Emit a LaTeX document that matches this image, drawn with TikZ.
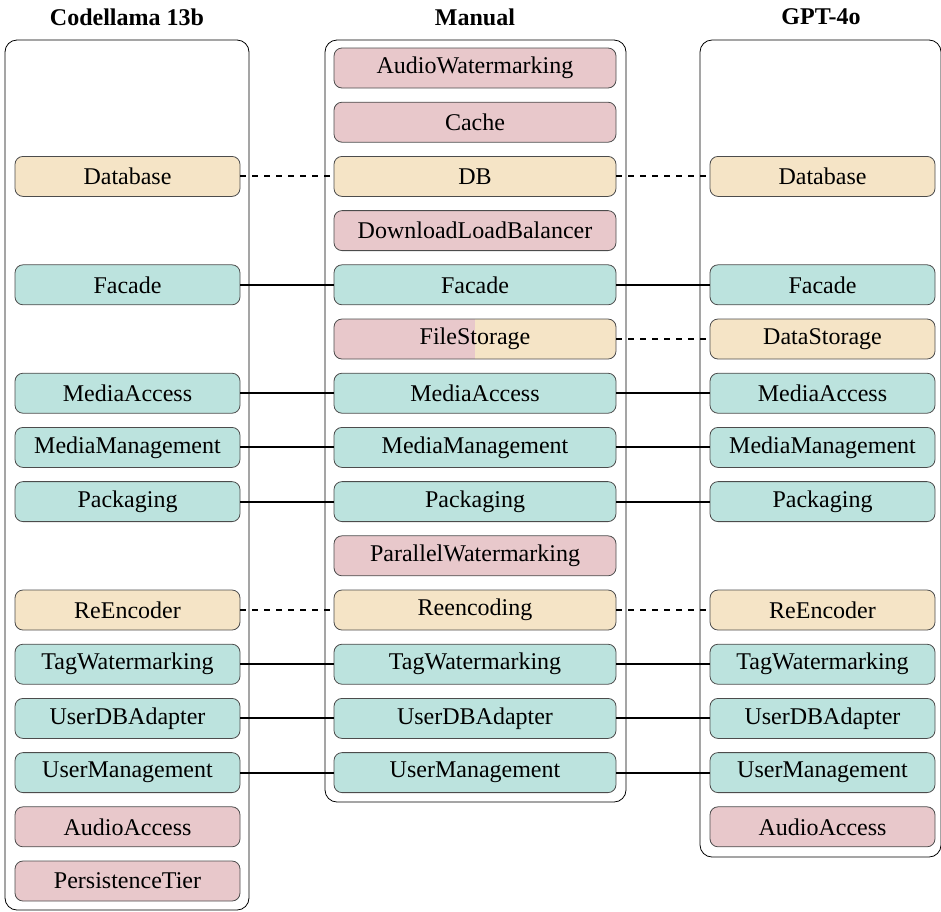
\documentclass[tikz,border=0pt]{standalone}
\usepackage{fontspec}
\setmainfont{Liberation Serif}
\usepackage{tikz}

\definecolor{missc}{RGB}{232,200,203}
\definecolor{partc}{RGB}{245,228,198}
\definecolor{matchc}{RGB}{188,227,222}

\begin{document}
\begin{tikzpicture}[x=0.5pt,y=-0.5pt,
    every node/.style={font=\fontsize{12}{14}\selectfont},
    comp/.style={draw=black!70,rounded corners=4pt,minimum height=20pt,inner sep=0pt},
    lcomp/.style={comp,minimum width=112.5pt},
    mcomp/.style={comp,minimum width=141pt},
    col/.style={draw,rounded corners=6pt},
    coltitle/.style={font=\fontsize{12}{14}\selectfont\bfseries},
    link/.style={line width=1pt}]

    \useasboundingbox (0,0) rectangle (941,911);

    % Column frames and titles
    \draw[col] (5,40) rectangle (249,910);
    \draw[col] (325,40) rectangle (626,802);
    \draw[col] (700,40) rectangle (941,857);
    \node[coltitle] (tl) at (127,17) {Codellama 13b};
    \node[coltitle] (tm) at (475,17) {Manual};
    \node[coltitle] (tr) at (821,17) {GPT-4o};

    % Codellama 13b
    \foreach \r/\t/\c in {2/Database/partc,4/Facade/matchc,6/MediaAccess/matchc,
        7/MediaManagement/matchc,8/Packaging/matchc,10/ReEncoder/partc,
        11/TagWatermarking/matchc,12/UserDBAdapter/matchc,13/UserManagement/matchc,
        14/AudioAccess/missc,15/PersistenceTier/missc} {
      \node[lcomp,fill=\c] (l\r) at (127.5,{68+54.2*\r}) {\t};
    }

    % Manual
    \foreach \r/\t/\c in {0/AudioWatermarking/missc,1/Cache/missc,2/DB/partc,
        3/DownloadLoadBalancer/missc,4/Facade/matchc,6/MediaAccess/matchc,
        7/MediaManagement/matchc,8/Packaging/matchc,9/ParallelWatermarking/missc,
        10/Reencoding/partc,11/TagWatermarking/matchc,12/UserDBAdapter/matchc,
        13/UserManagement/matchc} {
      \node[mcomp,fill=\c] (m\r) at (475,{68+54.2*\r}) {\t};
    }
    \node[mcomp,fill=missc,path picture={
        \fill[partc,sharp corners] (path picture bounding box.north)
          rectangle (path picture bounding box.south east);}]
      (m5) at (475,{68+54.2*5}) {FileStorage};

    % GPT-4o
    \foreach \r/\t/\c in {2/Database/partc,4/Facade/matchc,5/DataStorage/partc,
        6/MediaAccess/matchc,7/MediaManagement/matchc,8/Packaging/matchc,
        10/ReEncoder/partc,11/TagWatermarking/matchc,12/UserDBAdapter/matchc,
        13/UserManagement/matchc,14/AudioAccess/missc} {
      \node[lcomp,fill=\c] (r\r) at (822.5,{68+54.2*\r}) {\t};
    }

    % Matches
    \foreach \r in {4,6,7,8,11,12,13} {
      \draw[link] (l\r) -- (m\r);
      \draw[link] (m\r) -- (r\r);
    }
    \foreach \r in {2,10} {
      \draw[link,dashed] (l\r) -- (m\r);
    }
    \foreach \r in {2,5,10} {
      \draw[link,dashed] (m\r) -- (r\r);
    }

\end{tikzpicture}
\end{document}
